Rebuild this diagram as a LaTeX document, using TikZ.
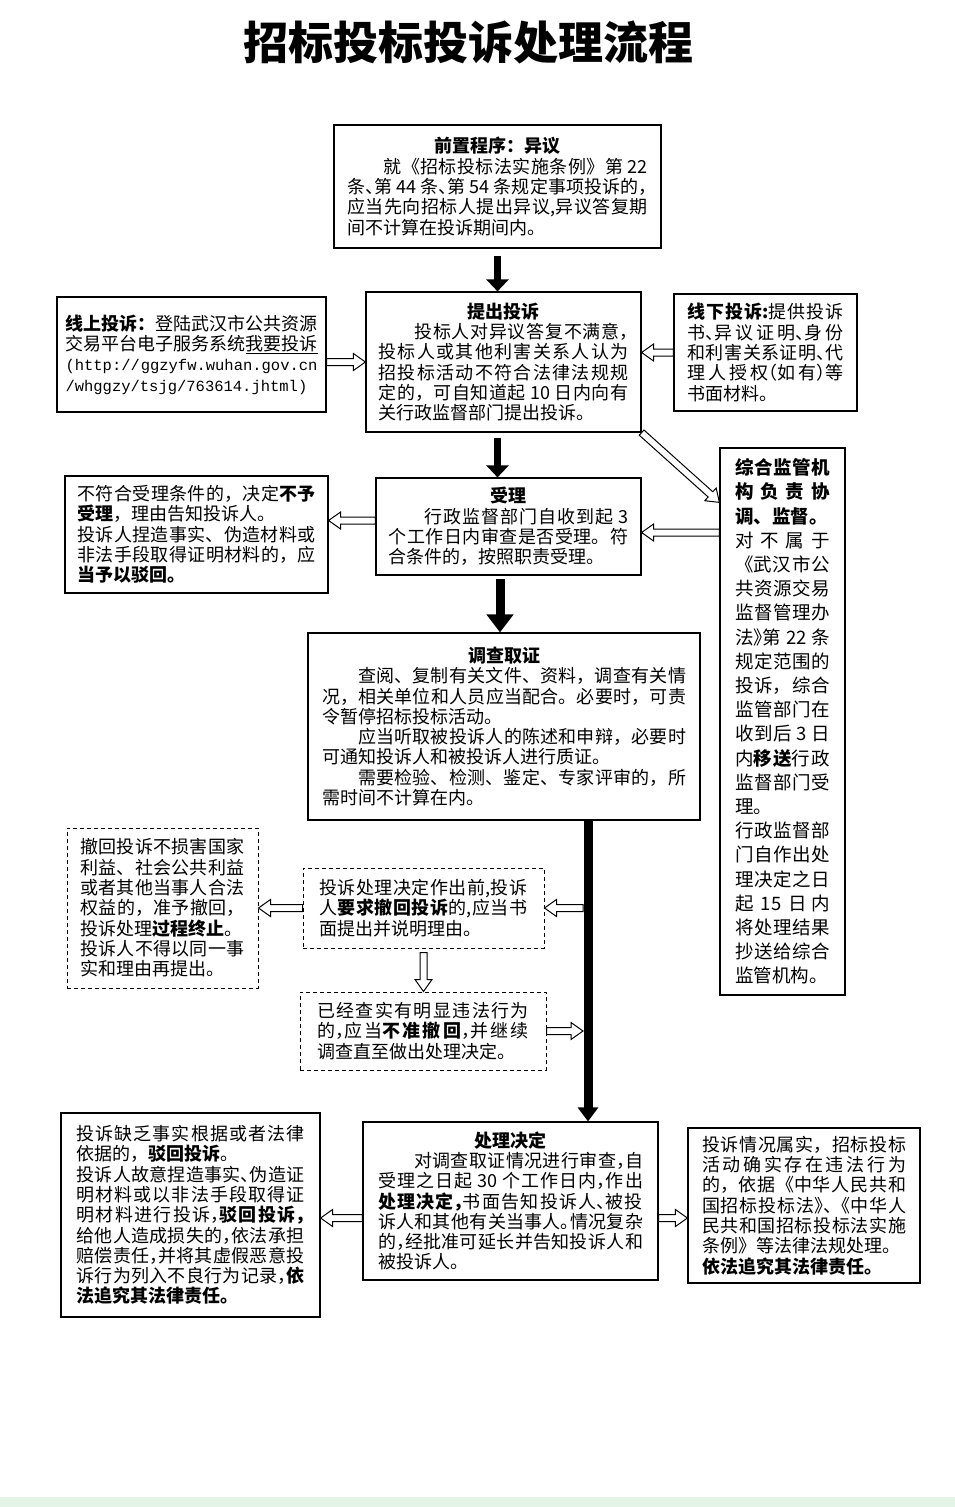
\documentclass[tikz,border=0pt]{standalone}
\usepackage{fontspec}
\setmainfont{Noto Sans CJK SC}
\newfontfamily\urlfont{Liberation Mono}
\usetikzlibrary{arrows.meta,calc}
\XeTeXlinebreaklocale "zh"
\XeTeXlinebreakskip=0pt plus 3pt minus 0.2pt
\newcommand\halfp[1]{\makebox[.5em][l]{#1}}
\newcommand\halfo[1]{\makebox[.5em][r]{#1}}
\definecolor{mint}{RGB}{228,244,230}
\newcommand\hollowarr[2]{%
  \draw[hollow] ($(#1)!3.5pt!90:(#2)$) -- ($(#2)!12pt!(#1)!3.5pt!90:(#2)$)
    -- ($(#2)!12pt!(#1)!8.5pt!90:(#2)$) -- (#2)
    -- ($(#2)!12pt!(#1)!8.5pt!-90:(#2)$) -- ($(#2)!12pt!(#1)!3.5pt!-90:(#2)$)
    -- ($(#1)!3.5pt!-90:(#2)$) -- cycle;}
\tikzset{
  tbox/.style={draw=black, line width=1.2pt, fill=white, align=justify,
    inner xsep=2pt, inner ysep=2pt, font=\fontsize{18}{20.3}\selectfont,
    execute at begin node={\parindent=0pt\parskip=0pt\tolerance=9999\hbadness=10000\hfuzz=30pt}},
  dbox/.style={tbox, line width=1pt, dash pattern=on 4pt off 3pt},
  thickarrow/.style={draw=black, line width=7pt, -{Triangle[length=12pt,width=22pt]}},
  hollow/.style={draw=black, line width=1pt, fill=white, line join=miter},
}
\begin{document}
\begin{tikzpicture}[x=1pt,y=1pt]
\useasboundingbox (0,0) rectangle (955,-1507);
\fill[white] (0,0) rectangle (955,-1507);
\fill[mint] (0,-1497) rectangle (955,-1507);

\node[font=\bfseries\fontsize{45}{52}\selectfont] (title) at (468,-42) {招标投标投诉处理流程};

\node[tbox, minimum width=327pt, minimum height=123pt, text width=300pt] (b1) at (497.5,-186.5)
{\centerline{\bfseries 前置程序：异议}
\hspace*{2em}就《招标投标法实施条例》第 22\linebreak
条\halfp{、}第 44 条\halfp{、}第 54 条规定事项投诉的\halfp{，}\linebreak
应当先向招标人提出异议,异议答复期\linebreak
间不计算在投诉期间内。};

\node[tbox, minimum width=269pt, minimum height=115pt, text width=252pt] (b2) at (191.5,-354.5)
{{\bfseries 线上投诉：}登陆武汉市公共资源\linebreak
交易平台电子服务系统\underline{我要投诉}\linebreak
{\urlfont\fontsize{15.5}{20.3}\selectfont (http://ggzyfw.wuhan.gov.cn\linebreak
/whggzy/tsjg/763614.jhtml)}};

\node[tbox, minimum width=275pt, minimum height=140pt, text width=250pt] (b3) at (503.5,-362)
{\centerline{\bfseries 提出投诉}
\hspace*{2em}投标人对异议答复不满意\halfp{，}\linebreak
投标人或其他利害关系人认为\linebreak
招投标活动不符合法律法规规\linebreak
定的，可自知道起 10 日内向有\linebreak
关行政监督部门提出投诉。};

\node[tbox, minimum width=183pt, minimum height=117pt, text width=156pt] (b4) at (765.5,-352.5)
{{\bfseries 线下投诉:}提供投诉\linebreak
书\halfp{、}异议证明\halfp{、}身份\linebreak
和利害关系证明\halfp{、}代\linebreak
理人授权\halfo{（}如有\halfp{）}等\linebreak
书面材料。};

\node[tbox, minimum width=263pt, minimum height=117pt, text width=238pt] (b5) at (196.5,-534.5)
{不符合受理条件的，决定{\bfseries 不予}\linebreak
{\bfseries 受理}，理由告知投诉人。\par
投诉人捏造事实、伪造材料或\linebreak
非法手段取得证明材料的，应\linebreak
{\bfseries 当予以驳回。}};

\node[tbox, minimum width=265pt, minimum height=97pt, text width=240pt] (b6) at (508.5,-526.5)
{\centerline{\bfseries 受理}
\hspace*{2em}行政监督部门自收到起 3\linebreak
个工作日内审查是否受理。符\linebreak
合条件的，按照职责受理。};

\node[tbox, minimum width=125pt, minimum height=547pt, text width=95pt,
      font=\fontsize{18.5}{24.2}\selectfont] (b7) at (782.5,-721.5)
{{\bfseries 综合监管机\linebreak 构负责协\linebreak 调、监督。}\par
对不属于\linebreak
《武汉市公\linebreak
共资源交易\linebreak
监督管理办\linebreak
法\halfp{》}第 22 条\linebreak
规定范围的\linebreak
投诉，综合\linebreak
监管部门在\linebreak
收到后 3 日\linebreak
内{\bfseries 移送}行政\linebreak
监督部门受\linebreak
理。\par
行政监督部\linebreak
门自作出处\linebreak
理决定之日\linebreak
起 15 日内\hfill\linebreak
将处理结果\linebreak
抄送给综合\linebreak
监管机构。};

\node[tbox, minimum width=392pt, minimum height=187pt, text width=364pt] (b8) at (504,-726.5)
{\centerline{\bfseries 调查取证}
\hspace*{2em}查阅、复制有关文件、资料，调查有关情\linebreak
况，相关单位和人员应当配合。必要时，可责\linebreak
令暂停招标投标活动。\par
\hspace*{2em}应当听取被投诉人的陈述和申辩，必要时\linebreak
可通知投诉人和被投诉人进行质证。\par
\hspace*{2em}需要检验、检测、鉴定、专家评审的，所\linebreak
需时间不计算在内。};

\node[dbox, minimum width=191pt, minimum height=160pt, text width=164pt] (b9) at (162.5,-908)
{撤回投诉不损害国家\linebreak
利益、社会公共利益\linebreak
或者其他当事人合法\linebreak
权益的，准予撤回，\linebreak
投诉处理{\bfseries 过程终止}。\par
投诉人不得以同一事\linebreak
实和理由再提出。};

\node[dbox, minimum width=241pt, minimum height=80pt, text width=208pt] (b10) at (423.5,-908)
{投诉处理决定作出前,投诉\linebreak
人{\bfseries 要求撤回投诉}的,应当书\linebreak
面提出并说明理由。};

\node[dbox, minimum width=246pt, minimum height=78pt, text width=212pt] (b11) at (423,-1031)
{已经查实有明显违法行为\linebreak
的\halfp{，}应当{\bfseries 不准撤回}\halfp{，}并继续\linebreak
调查直至做出处理决定。};

\node[tbox, minimum width=259pt, minimum height=204pt, text width=228pt] (b12) at (190.5,-1215)
{投诉缺乏事实根据或者法律\linebreak
依据的，{\bfseries 驳回投诉}。\par
投诉人故意捏造事实\halfp{、}伪造证\linebreak
明材料或以非法手段取得证\linebreak
明材料进行投诉\halfp{，}{\bfseries 驳回投诉\halfp{，}}\linebreak
给他人造成损失的\halfp{，}依法承担\linebreak
赔偿责任\halfp{，}并将其虚假恶意投\linebreak
诉行为列入不良行为记录\halfp{，}{\bfseries 依}\linebreak
{\bfseries 法追究其法律责任。}};

\node[tbox, minimum width=295pt, minimum height=158pt, text width=265pt] (b13) at (510.5,-1201)
{\centerline{\bfseries 处理决定}
\hspace*{2em}对调查取证情况进行审查\halfp{，}自\linebreak
受理之日起 30 个工作日内\halfp{，}作出\linebreak
{\bfseries 处理决定\halfp{，}}书面告知投诉人\halfp{、}被投\linebreak
诉人和其他有关当事人\halfp{。}情况复杂\linebreak
的\halfp{，}经批准可延长并告知投诉人和\linebreak
被投诉人。};

\node[tbox, minimum width=232pt, minimum height=155pt, text width=204pt] (b14) at (804,-1205.5)
{投诉情况属实，招标投标\linebreak
活动确实存在违法行为\linebreak
的，依据《中华人民共和\linebreak
国招标投标法\halfp{》}\halfp{、}《中华人\linebreak
民共和国招标投标法实施\linebreak
条例》等法律法规处理。\par
{\bfseries 依法追究其法律责任。}};

% thick arrows
\draw[thickarrow] ($(b1.south)+(0,-7)$) -- (b1.south |- b3.north);
\draw[thickarrow] ($(b1.south |- b3.south)+(0,-5)$) -- (b1.south |- b6.north);
\coordinate (a3top) at ($(b8.north |- b6.south)+(-4,-3)$);
\coordinate (a3bot) at ($(b8.north)+(-4,0)$);
\draw[thickarrow, line width=9pt, -{Triangle[length=18pt,width=26pt]}] (a3top) -- (a3bot);
\coordinate (vl) at (588,-820);
\draw[thickarrow, line width=9pt, -{Triangle[length=14pt,width=20pt]}] (vl) -- (vl |- b13.north);

% hollow arrows
\coordinate (h1a) at (b2.east |- b3.west);
\hollowarr{h1a}{b3.west}
\coordinate (h2b) at (b3.east |- b4.west);
\hollowarr{b4.west}{h2b}
\coordinate (h3b) at ($(b7.north west)+(0,-55)$);
\hollowarr{b3.south east}{h3b}
\coordinate (h4a) at ($(b6.west)+(0,6)$);
\coordinate (h4b) at (b5.east |- h4a);
\hollowarr{h4a}{h4b}
\coordinate (h5b) at ($(b6.east)+(0,-6)$);
\coordinate (h5a) at (b7.west |- h5b);
\hollowarr{h5a}{h5b}
\coordinate (h6a) at ($(vl |- b10.east)+(-5,0)$);
\hollowarr{h6a}{b10.east}
\coordinate (h7b) at (b9.east |- b10.west);
\hollowarr{b10.west}{h7b}
\coordinate (h8a) at ($(b10.south)+(0,-4)$);
\coordinate (h8b) at (b10.south |- b11.north);
\hollowarr{h8a}{h8b}
\coordinate (h9b) at ($(vl |- b11.east)+(-5,0)$);
\hollowarr{b11.east}{h9b}
\coordinate (h10a) at ($(b13.west)+(0,-17)$);
\coordinate (h10b) at (b12.east |- h10a);
\hollowarr{h10a}{h10b}
\coordinate (h11a) at ($(b13.east)+(0,-17)$);
\coordinate (h11b) at (b14.west |- h11a);
\hollowarr{h11a}{h11b}
\end{tikzpicture}
\end{document}
